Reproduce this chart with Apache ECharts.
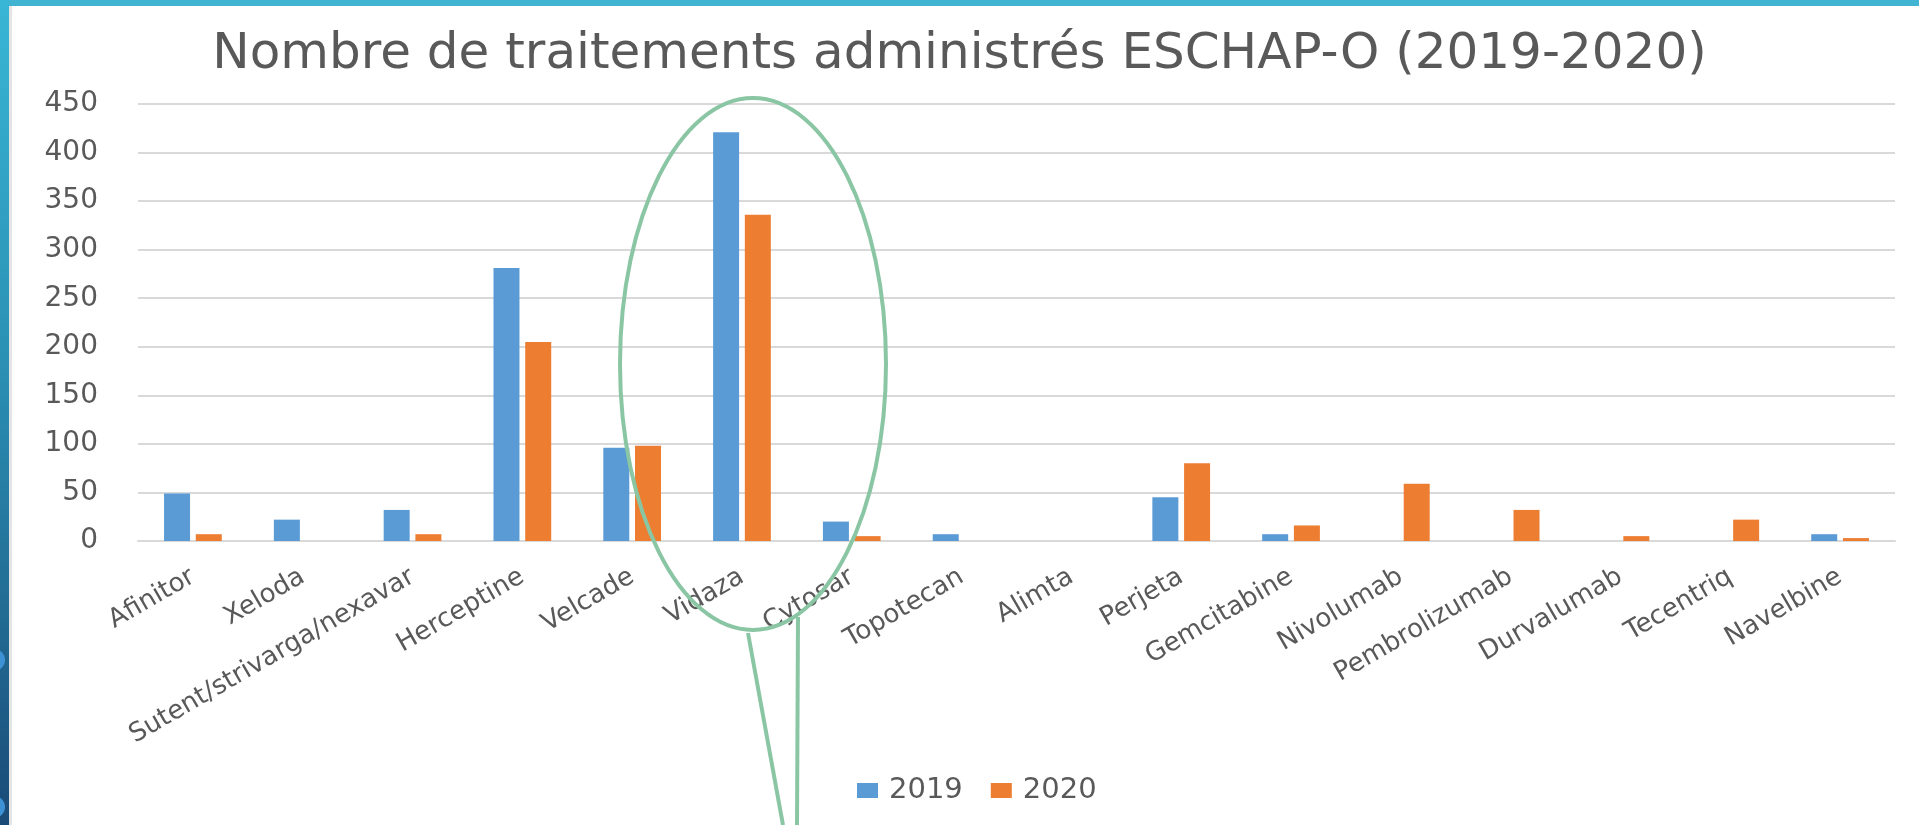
<!DOCTYPE html>
<html>
<head>
<meta charset="utf-8">
<title>Nombre de traitements administrés ESCHAP-O (2019-2020)</title>
<script src="https://cdn.jsdelivr.net/npm/echarts@6/dist/echarts.min.js"></script>
<style>
  html, body { margin: 0; padding: 0; background: #ffffff; }
  #main { width: 1919px; height: 825px; }
</style>
</head>
<body>
<div id="main"></div>
<script>
// données
var categories = ['Afinitor', 'Xeloda', 'Sutent/strivarga/nexavar', 'Herceptine', 'Velcade', 'Vidaza',
  'Cytosar', 'Topotecan', 'Alimta', 'Perjeta', 'Gemcitabine', 'Nivolumab', 'Pembrolizumab',
  'Durvalumab', 'Tecentriq', 'Navelbine'];
var values2019 = [49, 22, 32, 281, 96, 421, 20, 7, 0, 45, 7, 0, 0, 0, 0, 7];
var values2020 = [7, 0, 7, 205, 98, 336, 5, 0, 0, 80, 16, 59, 32, 5, 22, 3];
var seriesNames = ['2019', '2020'];
var yMin = 0, yMax = 450, yStep = 50;

var textGray = '#595959';
var font = 'DejaVu Sans';

const myChart = echarts.init(document.getElementById('main'));

var option = {
  backgroundColor: '#ffffff',
  animation: false,
  color: ['#5b9bd5', '#ed7d31'],
  title: {
    text: 'Nombre de traitements administrés ESCHAP-O (2019-2020)',
    left: 'center',
    top: 25,
    textStyle: {
      color: textGray,
      fontFamily: font,
      fontWeight: 'normal',
      fontSize: 50
    }
  },
  grid: {
    left: 138,
    right: 24,
    top: 104,
    bottom: 284
  },
  legend: {
    data: seriesNames,
    left: 852,
    top: 771,
    itemWidth: 21,
    itemHeight: 15,
    itemGap: 28,
    icon: 'rect',
    textStyle: {
      color: textGray,
      fontFamily: font,
      fontSize: 29,
      padding: [0, 0, 0, 6]
    }
  },
  xAxis: {
    type: 'category',
    data: categories,
    axisTick: { show: false },
    axisLine: { lineStyle: { color: '#d9d9d9', width: 2 } },
    axisLabel: {
      interval: 0,
      rotate: 30,
      margin: 34,
      color: textGray,
      fontFamily: font,
      fontSize: 26
    }
  },
  yAxis: {
    type: 'value',
    min: yMin,
    max: yMax,
    interval: yStep,
    axisLine: { show: false },
    axisTick: { show: false },
    splitLine: { lineStyle: { color: '#d9d9d9', width: 2 } },
    axisLabel: {
      margin: 40,
      color: textGray,
      fontFamily: font,
      fontSize: 28
    }
  },
  series: [
    {
      name: seriesNames[0],
      type: 'bar',
      data: values2019,
      barWidth: 26,
      barGap: '22%'
    },
    {
      name: seriesNames[1],
      type: 'bar',
      data: values2020,
      barWidth: 26,
      barGap: '22%'
    }
  ],
  graphic: {
    elements: [
      // cadre de la diapositive
      {
        type: 'rect',
        left: 0, top: 0,
        shape: { width: 1919, height: 6 },
        style: { fill: '#41b4d1' },
        z: 100
      },
      {
        type: 'rect',
        left: 9, top: 6,
        shape: { width: 3, height: 819 },
        style: { fill: '#e4e4e4' },
        z: 99
      },
      {
        type: 'rect',
        left: 0, top: 0,
        shape: { width: 9, height: 825 },
        style: {
          fill: new echarts.graphic.LinearGradient(0, 0, 0, 1, [
            { offset: 0, color: '#39b6d5' },
            { offset: 0.45, color: '#2a8fb3' },
            { offset: 1, color: '#1a4b77' }
          ])
        },
        z: 100
      },
      {
        type: 'circle',
        shape: { cx: -6, cy: 660, r: 11 },
        style: { fill: '#3d92d6' },
        z: 101
      },
      {
        type: 'circle',
        shape: { cx: -6, cy: 807, r: 11 },
        style: { fill: '#3d92d6' },
        z: 101
      },
      // bulle verte autour de Vidaza / Cytosar
      {
        type: 'ellipse',
        shape: { cx: 753, cy: 364, rx: 133, ry: 266 },
        style: { fill: 'none', stroke: '#8ac6a4', lineWidth: 4 },
        z: 50
      },
      {
        type: 'polyline',
        shape: { points: [[748, 633], [783, 825]] },
        style: { stroke: '#8ac6a4', lineWidth: 4 },
        z: 50
      },
      {
        type: 'polyline',
        shape: { points: [[798, 617], [797, 825]] },
        style: { stroke: '#8ac6a4', lineWidth: 4 },
        z: 50
      }
    ]
  }
};

myChart.setOption(option);
</script>
</body>
</html>
